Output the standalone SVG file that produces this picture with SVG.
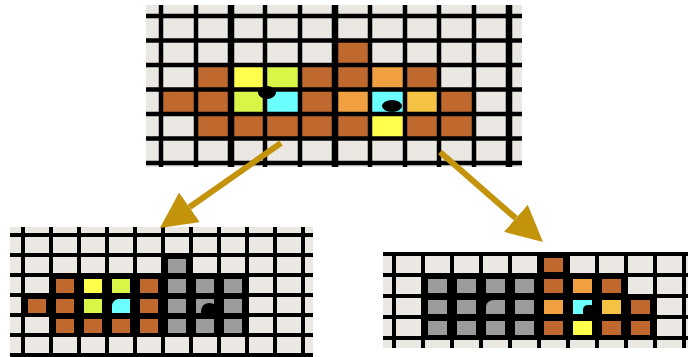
<svg xmlns="http://www.w3.org/2000/svg" width="688" height="357" viewBox="0 0 688 357">
<style>
.bg{fill:#ebe8e3}
.br{fill:#c0692f}
.ye{fill:#ffff4c}
.yg{fill:#d8f548}
.cy{fill:#6cffff}
.or{fill:#f0a040}
.go{fill:#f5c243}
.gr{fill:#9b9b9b}
.bk{fill:#000}
.ln{stroke:#000;stroke-width:4.5;fill:none}
.lt{stroke:#000;stroke-width:6.5;fill:none}
.ls{stroke:#000;stroke-width:4;fill:none}
.arrow{stroke:#c4930c;stroke-width:6;fill:none;marker-end:url(#head)}
</style>
<defs>
<marker id="head" markerUnits="userSpaceOnUse" markerWidth="36" markerHeight="36" viewBox="0 0 36 36" refX="0" refY="18" orient="auto">
<path d="M0,0 L36,18 L0,36 z" fill="#c4930c"/>
</marker>
</defs>
<rect width="688" height="357" fill="#fff"/>

<g id="top-grid">
<rect class="bg" x="146" y="5" width="376" height="162"/>
<rect class="br" x="335" y="40.5" width="35" height="24.5"/>
<rect class="br" x="196" y="65" width="35" height="24.5"/>
<rect class="ye" x="231" y="65" width="34" height="24.5"/>
<rect class="yg" x="265" y="65" width="35" height="24.5"/>
<rect class="br" x="300" y="65" width="70" height="24.5"/>
<rect class="or" x="370" y="65" width="35" height="24.5"/>
<rect class="br" x="405" y="65" width="34" height="24.5"/>
<rect class="br" x="161" y="89.5" width="70" height="24.5"/>
<rect class="yg" x="231" y="89.5" width="34" height="24.5"/>
<rect class="cy" x="265" y="89.5" width="35" height="24.5"/>
<rect class="br" x="300" y="89.5" width="35" height="24.5"/>
<rect class="or" x="335" y="89.5" width="35" height="24.5"/>
<rect class="cy" x="370" y="89.5" width="35" height="24.5"/>
<rect class="go" x="405" y="89.5" width="34" height="24.5"/>
<rect class="br" x="439" y="89.5" width="35" height="24.5"/>
<rect class="br" x="196" y="114" width="174" height="24.5"/>
<rect class="ye" x="370" y="114" width="35" height="24.5"/>
<rect class="br" x="405" y="114" width="69" height="24.5"/>
<path class="ln" d="M146,16H522M146,40.5H522M146,65H522M146,89.5H522M146,114H522M146,138.5H522M146,163H522"/>
<path class="ln" d="M161,5V167M196,5V167M265,5V167M300,5V167M370,5V167M405,5V167M439,5V167M474,5V167"/>
<path class="lt" d="M231,5V167M335,5V167M509,5V167"/>
<ellipse class="bk" cx="267" cy="92.5" rx="9" ry="6.5"/>
<ellipse class="bk" cx="392" cy="106" rx="10" ry="6"/>
</g>

<g id="bottom-left-grid">
<rect class="bg" x="10" y="227" width="303" height="130"/>
<path class="ls" d="M10,235H313M10,255H313M10,275H313M10,295H313M10,315H313M10,335H313M10,355H313"/>
<path class="ls" d="M23,227V357M51,227V357M79,227V357M107,227V357M135,227V357M163,227V357M191,227V357M219,227V357M247,227V357M275,227V357M303,227V357"/>
<rect class="bk" x="49" y="273" width="200" height="64"/>
<rect class="bk" x="21" y="293" width="32" height="24"/>
<rect class="bk" x="161" y="253" width="32" height="24"/>
<rect class="gr" x="168" y="259" width="18" height="14"/>
<rect class="br" x="56" y="279" width="18" height="14"/>
<rect class="ye" x="84" y="279" width="18" height="14"/>
<rect class="yg" x="112" y="279" width="18" height="14"/>
<rect class="br" x="140" y="279" width="18" height="14"/>
<rect class="gr" x="168" y="279" width="18" height="14"/>
<rect class="gr" x="196" y="279" width="18" height="14"/>
<rect class="gr" x="224" y="279" width="18" height="14"/>
<rect class="br" x="28" y="299" width="18" height="14"/>
<rect class="br" x="56" y="299" width="18" height="14"/>
<rect class="yg" x="84" y="299" width="18" height="14"/>
<rect class="cy" x="112" y="299" width="18" height="14"/>
<rect class="br" x="140" y="299" width="18" height="14"/>
<rect class="gr" x="168" y="299" width="18" height="14"/>
<rect class="gr" x="196" y="299" width="18" height="14"/>
<rect class="gr" x="224" y="299" width="18" height="14"/>
<rect class="br" x="56" y="319" width="18" height="14"/>
<rect class="br" x="84" y="319" width="18" height="14"/>
<rect class="br" x="112" y="319" width="18" height="14"/>
<rect class="br" x="140" y="319" width="18" height="14"/>
<rect class="gr" x="168" y="319" width="18" height="14"/>
<rect class="gr" x="196" y="319" width="18" height="14"/>
<rect class="gr" x="224" y="319" width="18" height="14"/>
<path class="bk" d="M112,299H118Q113,300 112,305Z"/>
<path class="bk" d="M201,313Q201,303 209,303Q217,303 217,310L217,313Z"/>
</g>

<g id="bottom-right-grid">
<rect class="bg" x="383" y="254" width="305" height="94"/>
<path class="ls" d="M383,254H688M383,275H688M383,296H688M383,317H688M383,338H688"/>
<path class="ls" d="M394,254V348M423,254V348M452,254V348M481,254V348M510,254V348M539,254V348M568,254V348M597,254V348M626,254V348M655,254V348M684,254V348"/>
<rect class="bk" x="421" y="273" width="207" height="67"/>
<rect class="bk" x="624" y="294" width="33" height="46"/>
<rect class="bk" x="537" y="252" width="33" height="25"/>
<rect class="br" x="544" y="258" width="19" height="14"/>
<rect class="gr" x="428" y="279" width="19" height="14"/>
<rect class="gr" x="457" y="279" width="19" height="14"/>
<rect class="gr" x="486" y="279" width="19" height="14"/>
<rect class="gr" x="515" y="279" width="19" height="14"/>
<rect class="br" x="544" y="279" width="19" height="14"/>
<rect class="or" x="573" y="279" width="19" height="14"/>
<rect class="br" x="602" y="279" width="19" height="14"/>
<rect class="gr" x="428" y="300" width="19" height="14"/>
<rect class="gr" x="457" y="300" width="19" height="14"/>
<rect class="gr" x="486" y="300" width="19" height="14"/>
<rect class="gr" x="515" y="300" width="19" height="14"/>
<rect class="or" x="544" y="300" width="19" height="14"/>
<rect class="cy" x="573" y="300" width="19" height="14"/>
<rect class="go" x="602" y="300" width="19" height="14"/>
<rect class="br" x="631" y="300" width="19" height="14"/>
<rect class="gr" x="428" y="321" width="19" height="14"/>
<rect class="gr" x="457" y="321" width="19" height="14"/>
<rect class="gr" x="486" y="321" width="19" height="14"/>
<rect class="gr" x="515" y="321" width="19" height="14"/>
<rect class="br" x="544" y="321" width="19" height="14"/>
<rect class="ye" x="573" y="321" width="19" height="14"/>
<rect class="br" x="602" y="321" width="19" height="14"/>
<rect class="br" x="631" y="321" width="19" height="14"/>
<path class="bk" d="M486,300H493Q487,301 486,306Z"/>
<path class="bk" d="M583,314L583,309Q584,305 588,305L592,305L592,314Z"/>
</g>

<g id="connectors">
<line class="arrow" x1="281" y1="143" x2="189.4" y2="207.3"/>
<line class="arrow" x1="440" y1="152" x2="515.9" y2="218.3"/>
</g>
</svg>
